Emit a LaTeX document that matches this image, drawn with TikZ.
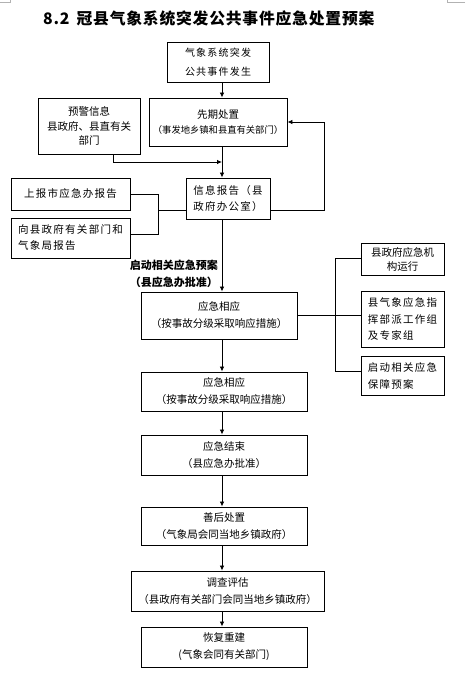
\documentclass[tikz,border=0pt]{standalone}
\usepackage{fontspec}
\setmainfont{Noto Sans CJK SC}
\newfontfamily\spaced[LetterSpace=12]{Noto Sans CJK SC}
\newfontfamily\titlefont[LetterSpace=5]{Noto Sans CJK SC}
\usetikzlibrary{arrows.meta}
\begin{document}
\begin{tikzpicture}[x=1pt,y=-1pt,
  box/.style={draw,line width=0.9pt,inner sep=0pt,align=center,font=\fontsize{10.5}{17}\selectfont},
  arr/.style={line width=0.8pt,-{Latex[length=5pt,width=4.5pt]}},
  ln/.style={line width=0.8pt}]
\useasboundingbox[fill=white] (0,0) rectangle (476,674);
% page corner marks
\coordinate (c1) at (0,2); \coordinate (c2) at (10,2); \coordinate (c3) at (10,0);
\coordinate (c4) at (465,2); \coordinate (c5) at (447,2); \coordinate (c6) at (447,0);
\draw[draw=gray!60,line width=0.6pt] (c1) -- (c2) -- (c3);
\draw[draw=gray!60,line width=0.6pt] (c4) -- (c5) -- (c6);
% title
\node[anchor=west,inner sep=0pt,font=\titlefont\fontsize{15.8}{17}\selectfont\bfseries] (title) at (43,18)
  {8.2\hspace{7pt}冠县气象系统突发公共事件应急处置预案};
% trunk x
\coordinate (tr) at (222,0);
% boxes
\node[box,minimum width=102pt,minimum height=40pt,font=\spaced\fontsize{10}{19}\selectfont] (top) at (218,62) {气象系统突发\\公共事件发生};
\node[box,minimum width=102pt,minimum height=56pt,font=\fontsize{10.5}{14.5}\selectfont] (warn) at (89,126) {预警信息\\县政府、县直有关\\部门};
\node[box,minimum width=138pt,minimum height=48pt] (pre) at (218,122) {先期处置\\[-2pt]{\fontsize{9.3}{10}\selectfont （事发地乡镇和县直有关部门）}};
\node[box,minimum width=84pt,minimum height=41pt,font=\spaced\fontsize{10.5}{16}\selectfont] (info) at (228,198.5) {信息报告（县\\政府办公室）};
\node[box,minimum width=119pt,minimum height=32pt,font=\spaced\fontsize{10.5}{16}\selectfont] (up) at (70.5,194) {上报市应急办报告};
\node[box,minimum width=119pt,minimum height=40pt,align=left,font=\spaced\fontsize{10.5}{16}\selectfont] (to) at (70.5,238) {向县政府有关部门和\\气象局报告};
\node[box,minimum width=83pt,minimum height=32pt,font=\fontsize{10.5}{14}\selectfont] (r1) at (402.5,259) {县政府应急机\\构运行};
\node[box,minimum width=83pt,minimum height=56pt,align=left,font=\spaced\fontsize{10.5}{16.5}\selectfont] (r2) at (402.5,319) {县气象应急指\\挥部派工作组\\及专家组};
\node[box,minimum width=83pt,minimum height=39pt,align=left,font=\spaced\fontsize{10.5}{17}\selectfont] (r3) at (402.5,375.5) {启动相关应急\\保障预案};
\node[box,minimum width=156pt,minimum height=47pt] (e1) at (219,315.5) {应急相应\\（按事故分级采取响应措施）};
\node[box,minimum width=166pt,minimum height=39pt] (e2) at (224,391.5) {应急相应\\（按事故分级采取响应措施）};
\node[box,minimum width=166pt,minimum height=40pt] (end) at (224,455) {应急结束\\（县应急办批准）};
\node[box,minimum width=166pt,minimum height=38pt] (after) at (224,526) {善后处置\\（气象局会同当地乡镇政府）};
\node[box,minimum width=193pt,minimum height=40pt] (survey) at (227.5,591) {调查评估\\（县政府有关部门会同当地乡镇政府）};
\node[box,minimum width=166pt,minimum height=40pt] (rebuild) at (224,647) {恢复重建\\(气象会同有关部门)};
% label
\node[anchor=east,align=right,inner sep=0pt,font=\fontsize{11}{17}\selectfont\bfseries] (lbl) at (218,273.5) {启动相关应急预案\\（县应急办批准）};
% connectors
\draw[arr] (top.south -| tr) -- (pre.north -| tr);
\coordinate (w1) at (113,162);
\draw[arr] (warn.south -| w1) -- (w1) -- (w1 -| tr);
\draw[arr] (pre.south -| tr) -- (info.north -| tr);
\coordinate (fb) at (324,210);
\draw[arr] (fb -| info.east) -- (fb) |- (pre.east);
\coordinate (lb) at (158,210);
\coordinate (lb2) at (158,234);
\draw[ln] (up.east) -| (lb2) -- (lb2 -| to.east);
\draw[ln] (lb) -- (lb -| info.west);
\draw[arr] (info.south -| tr) -- (e1.north -| tr);
\coordinate (rt) at (335,258);
\coordinate (rb) at (335,371);
\draw[ln] (rt -| r1.west) -- (rt) -- (rb) -- (rb -| r3.west);
\draw[ln] (e1.east) -- (e1.east -| r2.west);
\draw[arr] (e1.south -| tr) -- (e2.north -| tr);
\draw[arr] (e2.south -| tr) -- (end.north -| tr);
\draw[arr] (end.south -| tr) -- (after.north -| tr);
\draw[arr] (after.south -| tr) -- (survey.north -| tr);
\draw[arr] (survey.south -| tr) -- (rebuild.north -| tr);
\end{tikzpicture}
\end{document}
